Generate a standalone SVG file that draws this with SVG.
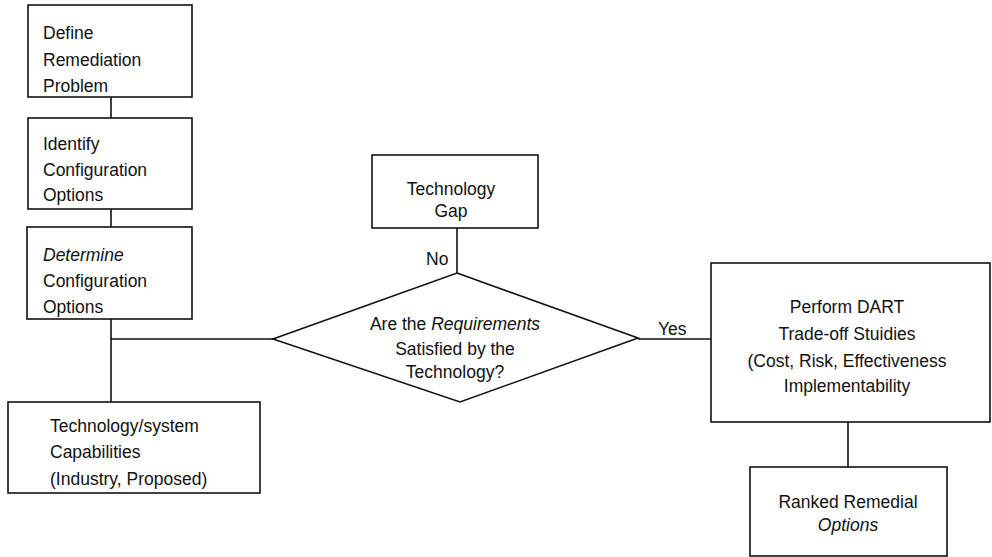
<svg xmlns="http://www.w3.org/2000/svg" width="992" height="557" viewBox="0 0 992 557">
<style>
.box{fill:#fff;stroke:#111;stroke-width:1.6}
.ln{fill:none;stroke:#111;stroke-width:1.6}
text{font-family:"Liberation Sans",Arial,sans-serif;font-size:17.5px;fill:#111}
.c{text-anchor:middle}
.i{font-style:italic}
</style>
<rect width="992" height="557" fill="#fff"/>
<g id="connectors">
<line class="ln" x1="111" y1="97" x2="111" y2="118"/>
<line class="ln" x1="111" y1="209" x2="111" y2="227"/>
<line class="ln" x1="111" y1="319" x2="111" y2="402"/>
<line class="ln" x1="111" y1="339" x2="273" y2="339"/>
<line class="ln" x1="457" y1="228" x2="457" y2="273"/>
<line class="ln" x1="638" y1="339" x2="711" y2="339"/>
<line class="ln" x1="848" y1="422" x2="848" y2="467"/>
<text x="426" y="265">No</text>
<text x="658" y="335">Yes</text>
</g>
<g id="define">
<rect class="box" x="28" y="5" width="164" height="92"/>
<text x="43" y="39">Define</text>
<text x="43" y="66">Remediation</text>
<text x="43" y="92">Problem</text>
</g>
<g id="identify">
<rect class="box" x="28" y="118" width="164" height="91"/>
<text x="43" y="150">Identify</text>
<text x="43" y="176">Configuration</text>
<text x="43" y="201">Options</text>
</g>
<g id="determine">
<rect class="box" x="27" y="227" width="165" height="92"/>
<text x="43" y="261" class="i">Determine</text>
<text x="43" y="287">Configuration</text>
<text x="43" y="313">Options</text>
</g>
<g id="capabilities">
<rect class="box" x="8" y="402" width="252" height="91"/>
<text x="50" y="432">Technology/system</text>
<text x="50" y="458">Capabilities</text>
<text x="50" y="485">(Industry, Proposed)</text>
</g>
<g id="gap">
<rect class="box" x="372" y="155" width="166" height="73"/>
<text x="451" y="195" class="c">Technology</text>
<text x="451" y="217" class="c">Gap</text>
</g>
<g id="decision">
<polygon class="box" points="457,273 638,338 460,402 273,339"/>
<text x="455" y="330" class="c">Are the <tspan class="i">Requirements</tspan></text>
<text x="455" y="355" class="c">Satisfied by the</text>
<text x="455" y="378" class="c">Technology?</text>
</g>
<g id="dart">
<rect class="box" x="711" y="263" width="279" height="159"/>
<text x="847" y="313" class="c">Perform DART</text>
<text x="847" y="340" class="c">Trade-off Stuidies</text>
<text x="847" y="367" class="c">(Cost, Risk, Effectiveness</text>
<text x="847" y="392" class="c">Implementability</text>
</g>
<g id="ranked">
<rect class="box" x="750" y="467" width="197" height="89"/>
<text x="848" y="508" class="c">Ranked Remedial</text>
<text x="848" y="531" class="c i">Options</text>
</g>
</svg>
